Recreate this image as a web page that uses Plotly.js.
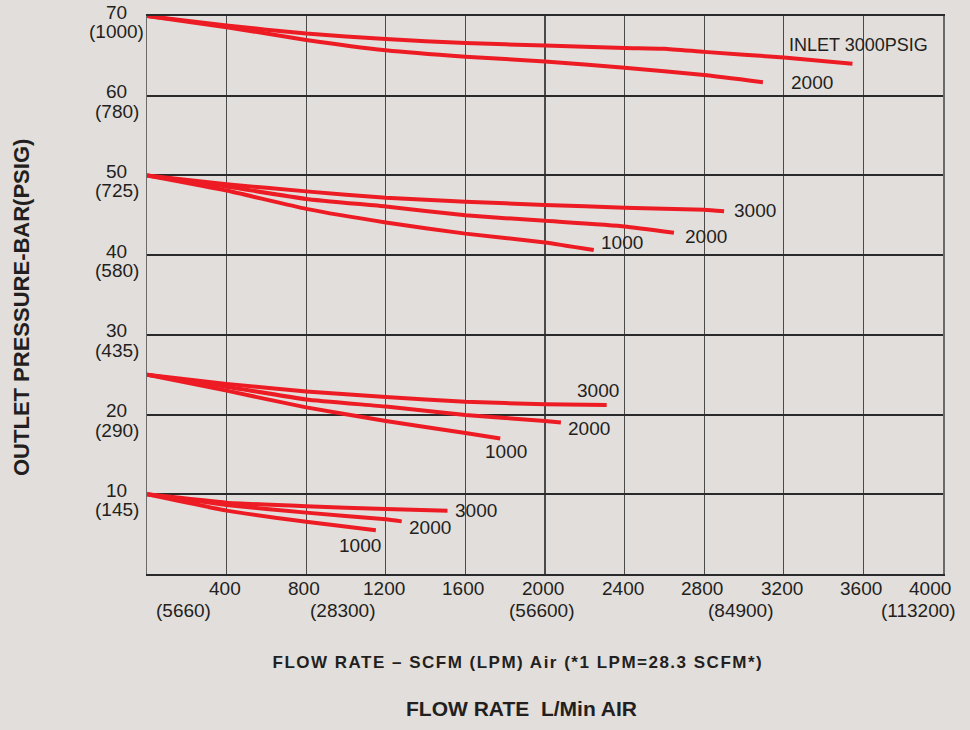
<!DOCTYPE html>
<html>
<head>
<meta charset="utf-8">
<script src="https://cdn.plot.ly/plotly-3.0.1.min.js"></script>
<style>
html,body{margin:0;padding:0;background:#e2dedb;}
#chart{width:970px;height:730px;}
g.annotation[data-index="0"] text{letter-spacing:1.5px;}
</style>
</head>
<body>
<div id="chart"></div>
<script>
// ---- data ----
// Inlet 70 bar group
const flow70_3000 = [0, 400, 800, 1200, 1600, 2000, 2400, 2600, 2800, 3200, 3545];
const pres70_3000 = [70, 68.8, 67.8, 67.1, 66.6, 66.3, 66.0, 65.9, 65.5, 64.8, 64.0];
const flow70_2000 = [0, 400, 800, 1200, 1600, 2000, 2400, 2800, 3095];
const pres70_2000 = [70, 68.6, 67.0, 65.7, 64.9, 64.3, 63.5, 62.6, 61.7];
// 50 bar group
const flow50_3000 = [0, 400, 800, 1200, 1600, 2000, 2400, 2800, 2900];
const pres50_3000 = [50, 48.9, 48.0, 47.2, 46.7, 46.3, 45.95, 45.7, 45.5];
const flow50_2000 = [0, 400, 800, 1200, 1600, 2000, 2400, 2648];
const pres50_2000 = [50, 48.6, 47.05, 46.1, 45.0, 44.3, 43.6, 42.8];
const flow50_1000 = [0, 400, 800, 1200, 1600, 2000, 2245];
const pres50_1000 = [50, 48.1, 45.8, 44.1, 42.7, 41.6, 40.65];
// 25 bar group
const flow25_3000 = [0, 400, 800, 1200, 1600, 2000, 2310];
const pres25_3000 = [25, 23.85, 22.9, 22.2, 21.6, 21.3, 21.2];
const flow25_2000 = [0, 400, 800, 1200, 1600, 2000, 2080];
const pres25_2000 = [25, 23.5, 21.9, 21.0, 19.95, 19.2, 19.0];
const flow25_1000 = [0, 400, 800, 1200, 1600, 1775];
const pres25_1000 = [25, 23.0, 20.9, 19.2, 17.7, 17.0];
// 10 bar group
const flow10_3000 = [0, 400, 800, 1200, 1510];
const pres10_3000 = [10, 8.95, 8.5, 8.15, 7.95];
const flow10_2000 = [0, 400, 800, 1200, 1280];
const pres10_2000 = [10, 8.66, 7.7, 6.86, 6.6];
const flow10_1000 = [0, 400, 800, 1150];
const pres10_1000 = [10, 7.95, 6.56, 5.48];

const seriesLabels = ["INLET 3000PSIG", "2000", "3000", "2000", "1000", "3000", "2000", "1000", "3000", "2000", "1000"];

// tick labels
const yTickVals = [70, 60, 50, 40, 30, 20, 10];
const yTickPsi = ["(1000)", "(780)", "(725)", "(580)", "(435)", "(290)", "(145)"];
const xTickVals = [400, 800, 1200, 1600, 2000, 2400, 2800, 3200, 3600, 4000];
const xLpmVals = [200, 1000, 2000, 3000, 4000];
const xLpmText = ["(5660)", "(28300)", "(56600)", "(84900)", "(113200)"];

const yTitle = "OUTLET PRESSURE-BAR(PSIG)";
const xTitle1 = "FLOW RATE \u2013 SCFM (LPM) Air (*1 LPM=28.3 SCFM*)";
const xTitle2 = "FLOW RATE\u00a0\u00a0L/Min AIR";

// ---- layout of labels (pixel offsets from each curve end) ----
const seriesX = [flow70_3000, flow70_2000, flow50_3000, flow50_2000, flow50_1000,
                 flow25_3000, flow25_2000, flow25_1000, flow10_3000, flow10_2000, flow10_1000];
const seriesY = [pres70_3000, pres70_2000, pres50_3000, pres50_2000, pres50_1000,
                 pres25_3000, pres25_2000, pres25_1000, pres10_3000, pres10_2000, pres10_1000];
const labelDx = [-65, 26, 8, 9, 5, -32, 5, -17, 6, 5, -39];
const labelDy = [-19, 0, -1, 4, -7, -15, 6, 13, 0, 6, 15];

const RED = '#ed1c24';
const INK = '#231f20';
const tickFont = {family: 'Liberation Sans, Arial, Helvetica, sans-serif', size: 19, color: INK};

const traces = seriesX.map((xs, i) => ({
  x: xs, y: seriesY[i], type: 'scatter', mode: 'lines',
  line: {color: RED, width: 4, shape: 'spline', smoothing: 0.4},
  hoverinfo: 'skip', showlegend: false
}));

const annotations = [];
// x title line 1 (index 0, letter-spaced via CSS)
annotations.push({text: xTitle1, xref: 'paper', yref: 'paper', x: 0.466, y: 0, yshift: -88,
  xanchor: 'center', yanchor: 'middle', showarrow: false,
  font: {family: 'Liberation Sans, Arial, sans-serif', size: 17, color: INK, weight: 'bold'}});
annotations.push({text: xTitle2, xref: 'paper', yref: 'paper', x: 0.47, y: 0, yshift: -134,
  xanchor: 'center', yanchor: 'middle', showarrow: false,
  font: {family: 'Liberation Sans, Arial, sans-serif', size: 21, color: INK, weight: 'bold'}});
annotations.push({text: yTitle, xref: 'paper', yref: 'paper', x: 0, xshift: -126, y: 0.5, yshift: -13,
  xanchor: 'center', yanchor: 'middle', textangle: -90, showarrow: false,
  font: {family: 'Liberation Sans, Arial, sans-serif', size: 22, color: INK, weight: 'bold'}});

// y tick labels (two lines, centred)
yTickVals.forEach((v, i) => {
  annotations.push({text: String(v), xref: 'paper', yref: 'y', x: 0, xshift: -30.5, y: v, yshift: 4,
    xanchor: 'center', yanchor: 'middle', showarrow: false, font: tickFont});
  annotations.push({text: yTickPsi[i], xref: 'paper', yref: 'y', x: 0, xshift: -30.5, y: v, yshift: -15.5,
    xanchor: 'center', yanchor: 'middle', showarrow: false, font: tickFont});
});
// x tick labels
const xMax = 4000;
xTickVals.forEach(v => {
  const last = v === xMax;
  annotations.push({text: String(v), xref: 'x', yref: 'paper', x: v, xshift: last ? 10 : -2, y: 0, yshift: -14,
    xanchor: last ? 'right' : 'center', yanchor: 'middle', showarrow: false, font: tickFont});
});
xLpmVals.forEach((v, i) => {
  const last = v === xMax;
  annotations.push({text: xLpmText[i], xref: 'x', yref: 'paper', x: v, xshift: last ? 15 : -3, y: 0, yshift: -36,
    xanchor: last ? 'right' : 'center', yanchor: 'middle', showarrow: false, font: tickFont});
});
// curve labels
seriesX.forEach((xs, i) => {
  const ys = seriesY[i];
  annotations.push({text: seriesLabels[i], xref: 'x', yref: 'y', x: xs[xs.length - 1], y: ys[ys.length - 1],
    xshift: labelDx[i], yshift: -labelDy[i], xanchor: 'left', yanchor: 'middle', showarrow: false,
    font: {family: 'Liberation Sans, Arial, Helvetica, sans-serif', size: i === 0 ? 18 : 19, color: INK}});
});

const layout = {
  width: 970, height: 730,
  margin: {l: 147, r: 27, t: 16, b: 156, pad: 0},
  paper_bgcolor: '#e2dedb', plot_bgcolor: '#e2dedb',
  showlegend: false,
  xaxis: {range: [0, 4000], dtick: 400, tick0: 0, showgrid: true, gridcolor: '#4a4a4a', gridwidth: 1.3,
    zeroline: false, showticklabels: false, ticks: '', showline: true, linecolor: '#2a2a2a', linewidth: 2,
    mirror: true, layer: 'below traces', fixedrange: true},
  yaxis: {range: [0, 70], dtick: 10, tick0: 0, showgrid: true, gridcolor: '#2a2a2a', gridwidth: 2,
    zeroline: false, showticklabels: false, ticks: '', showline: true, linecolor: '#6a6a6a', linewidth: 1.5,
    mirror: true, layer: 'below traces', fixedrange: true},
  annotations: annotations
};

Plotly.newPlot('chart', traces, layout, {displayModeBar: false, staticPlot: true});
</script>
</body>
</html>
